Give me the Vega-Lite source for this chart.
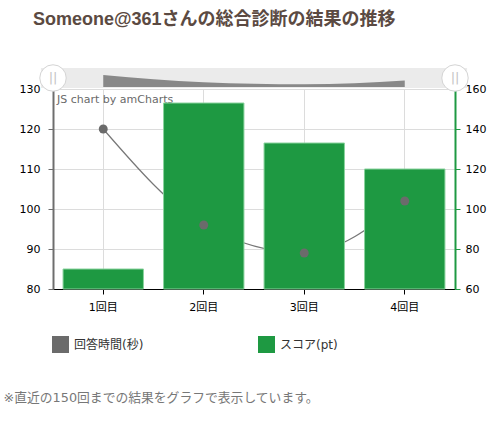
{
  "$schema": "https://vega.github.io/schema/vega-lite/v6.json",
  "width": 402,
  "height": 200,
  "autosize": "none",
  "padding": {"left": 53, "top": 89, "right": 48, "bottom": 133},
  "background": "white",
  "title": {
    "text": "Someone@361さんの総合診断の結果の推移",
    "anchor": "start",
    "frame": "group",
    "dx": -20,
    "offset": 34,
    "fontSize": 18,
    "font": "Liberation Sans, Noto Sans CJK JP",
    "fontWeight": "bold",
    "color": "#5b4a42"
  },
  "datasets": {
    "rounds": [
      {"round": "1回目", "time": 120, "score": 70},
      {"round": "2回目", "time": 96, "score": 153},
      {"round": "3回目", "time": 89, "score": 133},
      {"round": "4回目", "time": 102, "score": 120}
    ],
    "scroll": [{"x0": -0.03, "x1": 1.03, "y0": 1.005, "y1": 1.105}],
    "handles": [{"pos": 0, "y": 1.055}, {"pos": 1, "y": 1.055}],
    "credit": [{"pos": 0.01, "y": 0.945, "label": "JS chart by amCharts"}]
  },
  "layer": [
    {
      "layer": [
        {
          "data": {"name": "scroll"},
          "mark": {"type": "rect", "fill": "#ebebeb"},
          "encoding": {
            "x": {"field": "x0", "type": "quantitative", "scale": {"domain": [0, 1], "nice": false, "zero": false}, "axis": null},
            "x2": {"field": "x1"},
            "y": {"field": "y0", "type": "quantitative", "scale": {"domain": [0, 1], "nice": false, "zero": false}, "axis": null},
            "y2": {"field": "y1"}
          }
        },
        {
          "data": {"name": "handles"},
          "mark": {"type": "circle", "size": 700, "fill": "white", "stroke": "#d4d4d4", "strokeWidth": 1, "opacity": 1},
          "encoding": {
            "x": {"field": "pos", "type": "quantitative"},
            "y": {"field": "y", "type": "quantitative"}
          }
        },
        {
          "data": {"name": "handles"},
          "mark": {"type": "text", "text": "||", "fontSize": 13, "color": "#c4c4c4", "baseline": "middle", "align": "center"},
          "encoding": {
            "x": {"field": "pos", "type": "quantitative"},
            "y": {"field": "y", "type": "quantitative"}
          }
        },
        {
          "data": {"name": "credit"},
          "mark": {"type": "text", "fontSize": 11, "color": "#6a6a6a", "baseline": "middle", "align": "left"},
          "encoding": {
            "x": {"field": "pos", "type": "quantitative"},
            "y": {"field": "y", "type": "quantitative"},
            "text": {"field": "label"}
          }
        }
      ]
    },
    {
      "data": {"name": "rounds"},
      "encoding": {
        "x": {
          "field": "round",
          "type": "nominal",
          "sort": null,
          "scale": {"paddingInner": 0.2, "paddingOuter": 0.1},
          "axis": {
            "orient": "bottom",
            "title": "※直近の150回までの結果をグラフで表示しています。",
            "titleX": -50,
            "titleY": 112,
            "titleAlign": "left",
            "titleBaseline": "alphabetic",
            "titleFontSize": 12.8,
            "titleFontWeight": "normal",
            "titleColor": "#777",
            "labelAngle": 0,
            "labelFontSize": 11,
            "labelColor": "#000",
            "labelPadding": 7,
            "tickColor": "#000",
            "domainColor": "#000",
            "tickSize": 5,
            "grid": true,
            "gridColor": "#dcdcdc",
            "bandPosition": 0.5
          }
        }
      },
      "layer": [
        {
          "mark": {"type": "line", "interpolate": "monotone", "color": "#777", "strokeWidth": 1.2},
          "encoding": {
            "y": {
              "field": "time",
              "type": "quantitative",
              "scale": {"domain": [80, 130], "nice": false, "zero": false},
              "axis": {
                "orient": "left",
                "title": null,
                "values": [80, 90, 100, 110, 120, 130],
                "grid": true,
                "gridColor": "#dcdcdc",
                "domainColor": "#6e6e6e",
                "domainWidth": 2,
                "tickColor": "#6e6e6e",
                "tickSize": 5,
                "labelColor": "#000",
                "labelFontSize": 11,
                "labelPadding": 8
              }
            }
          }
        },
        {
          "mark": {"type": "bar", "stroke": "#8ad39e", "strokeWidth": 1},
          "encoding": {
            "y": {
              "field": "score",
              "type": "quantitative",
              "scale": {"domain": [60, 160], "nice": false, "zero": false},
              "axis": {
                "orient": "right",
                "title": null,
                "values": [60, 80, 100, 120, 140, 160],
                "grid": false,
                "domainColor": "#1e9942",
                "domainWidth": 2,
                "tickColor": "#1e9942",
                "tickSize": 5,
                "labelColor": "#000",
                "labelFontSize": 11,
                "labelPadding": 5
              }
            },
            "y2": {"datum": 60},
            "color": {
              "datum": "スコア(pt)",
              "type": "nominal",
              "scale": {"domain": ["回答時間(秒)", "スコア(pt)"], "range": ["#6b6b6b", "#1e9942"]},
              "legend": {
                "orient": "none",
                "legendX": -1,
                "legendY": 247,
                "direction": "horizontal",
                "title": null,
                "symbolType": "square",
                "symbolSize": 289,
                "symbolStrokeWidth": 0,
                "symbolOpacity": 1,
                "labelFontSize": 12,
                "labelColor": "#333",
                "labelOffset": 5,
                "columnPadding": 114
              }
            }
          }
        },
        {
          "mark": {"type": "circle", "size": 80, "opacity": 1},
          "encoding": {
            "y": {
              "field": "time",
              "type": "quantitative",
              "scale": {"domain": [80, 130], "nice": false, "zero": false},
              "axis": null
            },
            "color": {"datum": "回答時間(秒)", "type": "nominal"}
          }
        },
        {
          "mark": {"type": "area", "interpolate": "monotone", "color": "#888", "opacity": 1},
          "encoding": {
            "y": {
              "field": "time",
              "type": "quantitative",
              "scale": {"domain": [-593.33, 73.33], "nice": false, "zero": false},
              "axis": null
            },
            "y2": {"datum": 80}
          }
        }
      ],
      "resolve": {"scale": {"y": "independent"}}
    }
  ],
  "resolve": {"scale": {"x": "independent", "y": "independent"}},
  "config": {
    "font": "DejaVu Sans, Noto Sans CJK JP",
    "view": {"stroke": null}
  }
}
